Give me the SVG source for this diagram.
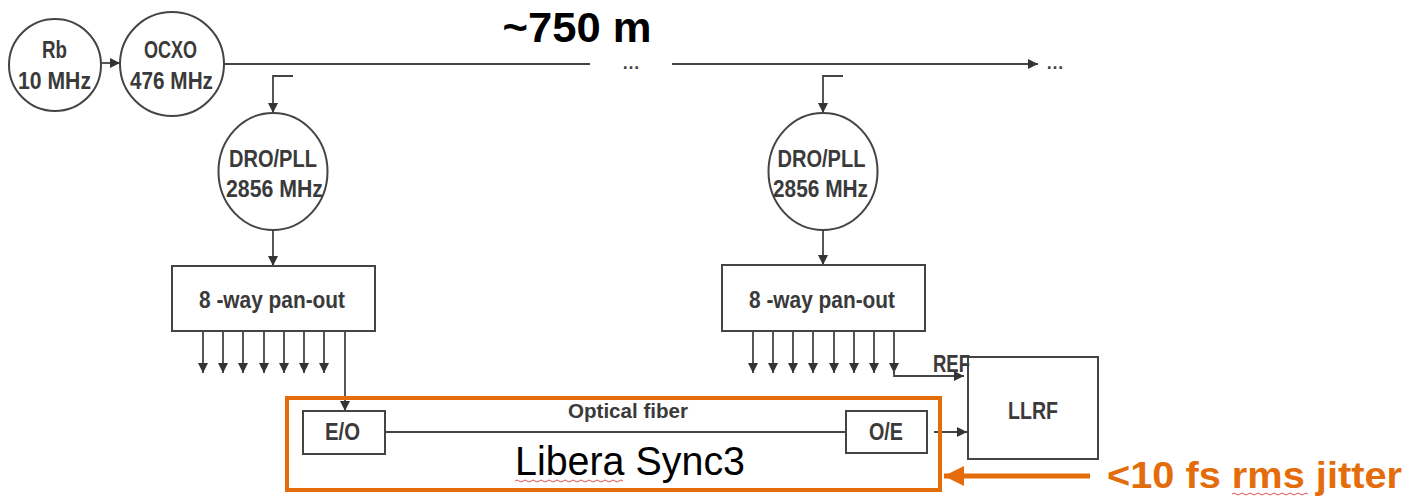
<svg xmlns="http://www.w3.org/2000/svg" width="1426" height="501" viewBox="0 0 1426 501">
<style>
.bg{fill:#fff}
.n{fill:#fff;stroke:#444;stroke-width:2}
.c{fill:none;stroke:#444;stroke-width:1.8}
.t{font-family:"Liberation Sans Narrow","Liberation Sans",Arial,sans-serif;font-weight:bold;fill:#3a3a3a;text-anchor:middle}
.s20{font-size:23px}
.s18{font-size:21px}
.o{stroke:#E46C0A;fill:none}
.sq{fill:none;stroke:#e05050;stroke-width:1}
.dots{font-family:"Liberation Sans",Arial,sans-serif;font-size:18px;font-weight:bold;fill:#444;text-anchor:middle}
</style>
<defs>
<marker id="ah" viewBox="0 0 10 10" refX="10" refY="5" markerWidth="11" markerHeight="10" markerUnits="userSpaceOnUse" orient="auto">
<path d="M0,0 L10,5 L0,10 z" fill="#333"/>
</marker>
<marker id="oah" viewBox="0 0 10 10" refX="10" refY="5" markerWidth="4" markerHeight="4" orient="auto">
<path d="M0,0 L10,5 L0,10 z" fill="#E46C0A"/>
</marker>
</defs>
<rect class="bg" x="0" y="0" width="1426" height="501"/>

<text x="577" y="42" font-family="Liberation Sans,Arial,sans-serif" font-weight="bold" font-size="42" text-anchor="middle" fill="#000" textLength="149" lengthAdjust="spacingAndGlyphs">~750 m</text>

<g id="connectors">
<line class="c" x1="101" y1="63" x2="120" y2="63" marker-end="url(#ah)"/>
<line class="c" x1="224" y1="64" x2="590" y2="64"/>
<text class="dots" x="631" y="69">…</text>
<line class="c" x1="672" y1="64" x2="1038" y2="64" marker-end="url(#ah)"/>
<text class="dots" x="1055" y="69">…</text>
<polyline class="c" points="293,76 273,76 273,113" marker-end="url(#ah)"/>
<polyline class="c" points="843,76 823,76 823,113" marker-end="url(#ah)"/>
<line class="c" x1="273" y1="230" x2="273" y2="266" marker-end="url(#ah)"/>
<line class="c" x1="823" y1="230" x2="823" y2="265" marker-end="url(#ah)"/>
<g>
<line class="c" x1="203" y1="331" x2="203" y2="373" marker-end="url(#ah)"/>
<line class="c" x1="223" y1="331" x2="223" y2="373" marker-end="url(#ah)"/>
<line class="c" x1="243" y1="331" x2="243" y2="373" marker-end="url(#ah)"/>
<line class="c" x1="264" y1="331" x2="264" y2="373" marker-end="url(#ah)"/>
<line class="c" x1="284" y1="331" x2="284" y2="373" marker-end="url(#ah)"/>
<line class="c" x1="304" y1="331" x2="304" y2="373" marker-end="url(#ah)"/>
<line class="c" x1="324" y1="331" x2="324" y2="373" marker-end="url(#ah)"/>
<line class="c" x1="345" y1="331" x2="345" y2="411" marker-end="url(#ah)"/>
</g>
<g>
<line class="c" x1="753" y1="331" x2="753" y2="373" marker-end="url(#ah)"/>
<line class="c" x1="773" y1="331" x2="773" y2="373" marker-end="url(#ah)"/>
<line class="c" x1="793" y1="331" x2="793" y2="373" marker-end="url(#ah)"/>
<line class="c" x1="813" y1="331" x2="813" y2="373" marker-end="url(#ah)"/>
<line class="c" x1="834" y1="331" x2="834" y2="373" marker-end="url(#ah)"/>
<line class="c" x1="854" y1="331" x2="854" y2="373" marker-end="url(#ah)"/>
<line class="c" x1="874" y1="331" x2="874" y2="373" marker-end="url(#ah)"/>
<line class="c" x1="894" y1="331" x2="894" y2="373" marker-end="url(#ah)"/>
<polyline class="c" points="894,370 894,376 964,376" marker-end="url(#ah)"/>
</g>
<line class="c" x1="385" y1="432" x2="846" y2="432"/>
<line class="c" x1="934" y1="432" x2="967" y2="432" marker-end="url(#ah)"/>
<line class="o" stroke-width="5" x1="1090" y1="476" x2="944" y2="476" marker-end="url(#oah)"/>
</g>

<g id="libera">
<rect class="o" stroke-width="4" x="287" y="398" width="653" height="92"/>
<text x="630" y="475" font-family="Liberation Sans,Arial,sans-serif" font-size="40" text-anchor="middle" fill="#000" textLength="230" lengthAdjust="spacingAndGlyphs">Libera Sync3</text>
<path class="sq" d="M515,481 q2,-2 4,0 t4,0 t4,0 t4,0 t4,0 t4,0 t4,0 t4,0 t4,0 t4,0 t4,0 t4,0 t4,0 t4,0 t4,0 t4,0 t4,0 t4,0 t4,0 t4,0 t4,0 t4,0 t4,0 t4,0 t4,0 t4,0 t4,0"/>
<text class="t s18" x="628" y="418" textLength="120" lengthAdjust="spacingAndGlyphs">Optical fiber</text>
</g>

<g id="rb">
<circle class="n" cx="55" cy="65" r="46"/>
<text class="t s20" x="54.5" y="58" textLength="25" lengthAdjust="spacingAndGlyphs">Rb</text>
<text class="t s20" x="54.5" y="89" textLength="73" lengthAdjust="spacingAndGlyphs">10 MHz</text>
</g>
<g id="ocxo">
<circle class="n" cx="172" cy="64" r="52"/>
<text class="t s20" x="170.5" y="58" textLength="53" lengthAdjust="spacingAndGlyphs">OCXO</text>
<text class="t s20" x="171.5" y="89" textLength="83" lengthAdjust="spacingAndGlyphs">476 MHz</text>
</g>
<g id="dro1">
<ellipse class="n" cx="273" cy="171.5" rx="54.5" ry="58.5"/>
<text class="t s20" x="273" y="167" textLength="88" lengthAdjust="spacingAndGlyphs">DRO/PLL</text>
<text class="t s20" x="274.5" y="197" textLength="97" lengthAdjust="spacingAndGlyphs">2856 MHz</text>
</g>
<g id="dro2">
<ellipse class="n" cx="823" cy="171.5" rx="54.5" ry="58.5"/>
<text class="t s20" x="821.5" y="167" textLength="88" lengthAdjust="spacingAndGlyphs">DRO/PLL</text>
<text class="t s20" x="820.5" y="197" textLength="95" lengthAdjust="spacingAndGlyphs">2856 MHz</text>
</g>
<g id="panout1">
<rect class="n" x="172" y="266" width="203" height="65"/>
<text class="t s20" x="272" y="308" textLength="146" lengthAdjust="spacingAndGlyphs">8 -way pan-out</text>
</g>
<g id="panout2">
<rect class="n" x="722" y="265" width="203" height="66"/>
<text class="t s20" x="822" y="308" textLength="146" lengthAdjust="spacingAndGlyphs">8 -way pan-out</text>
</g>
<g id="llrf">
<rect class="n" x="968" y="357" width="130" height="102"/>
<text class="t s20" x="1033" y="419" textLength="50" lengthAdjust="spacingAndGlyphs">LLRF</text>
</g>
<text class="t s20" x="951.5" y="372" textLength="37" lengthAdjust="spacingAndGlyphs">REF</text>
<g id="eo">
<rect class="n" x="303" y="411" width="82" height="43"/>
<text class="t s20" x="342.5" y="440" textLength="35" lengthAdjust="spacingAndGlyphs">E/O</text>
</g>
<g id="oe">
<rect class="n" x="846" y="411" width="81" height="42"/>
<text class="t s20" x="886" y="440" textLength="34" lengthAdjust="spacingAndGlyphs">O/E</text>
</g>
<g id="jitter">
<text x="1107" y="488" font-family="Liberation Sans,Arial,sans-serif" font-weight="bold" font-size="37" fill="#E46C0A" textLength="295" lengthAdjust="spacingAndGlyphs">&lt;10 fs rms jitter</text>
<path class="sq" d="M1232,494 q2,-2 4,0 t4,0 t4,0 t4,0 t4,0 t4,0 t4,0 t4,0 t4,0 t4,0 t4,0 t4,0 t4,0 t4,0 t4,0 t4,0 t4,0 t4,0 t4,0"/>
</g>
</svg>
